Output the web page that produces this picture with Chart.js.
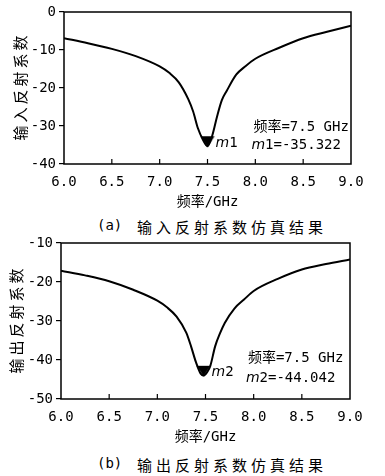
<!DOCTYPE html>
<html>
<head>
<meta charset="utf-8">
<script src="https://cdn.jsdelivr.net/npm/chart.js@4.4.1/dist/chart.umd.min.js"></script>
<style>
  body { margin: 0; width: 385px; height: 476px; position: relative; background: #fff; overflow: hidden; }
  canvas { position: absolute; left: 0; }
  .cap { position: absolute; left: 97px; height: 18px; line-height: 18px; color: #000; white-space: nowrap; }
  .cap .tag { font: 14px "DejaVu Sans Mono", monospace; }
  .cap .txt { position: absolute; left: 40px; top: 0; font: 15px "Noto Sans CJK SC", sans-serif; letter-spacing: 4px; }
</style>
</head>
<body>
<canvas id="chartA" width="385" height="214" style="top:0"></canvas>
<div class="cap" style="top:216px"><span class="tag">(a)</span><span class="txt">输入反射系数仿真结果</span></div>
<canvas id="chartB" width="385" height="220" style="top:230px"></canvas>
<div class="cap" style="top:454px"><span class="tag">(b)</span><span class="txt">输出反射系数仿真结果</span></div>
<script>
// (a) input reflection coefficient, dB vs GHz
const freqA = [6.0, 6.25, 6.5, 6.75, 7.0, 7.1, 7.2, 7.3, 7.35, 7.4, 7.45, 7.5, 7.55, 7.6, 7.65, 7.7, 7.8, 7.9, 8.0, 8.25, 8.5, 8.75, 9.0];
const s11 = [-6.9, -8.2, -9.7, -11.6, -14.3, -16.0, -18.5, -23.0, -26.2, -30.6, -33.5, -35.3, -32.5, -27.5, -23.2, -20.8, -16.5, -14.2, -12.3, -9.4, -6.9, -5.2, -3.6];
const markerA = { freq: 7.5, value: -35.322, name: '1' };

// (b) output reflection coefficient
const freqB = [6.0, 6.25, 6.5, 6.75, 7.0, 7.1, 7.2, 7.3, 7.35, 7.4, 7.45, 7.48, 7.52, 7.55, 7.6, 7.65, 7.7, 7.8, 7.9, 8.0, 8.25, 8.5, 8.75, 9.0];
const s22 = [-17.1, -18.3, -19.8, -22.0, -24.8, -26.5, -28.9, -33.0, -36.5, -40.5, -43.5, -44.0, -43.0, -41.5, -36.5, -33.2, -30.5, -26.8, -24.5, -22.3, -19.2, -16.8, -15.4, -14.2];
const markerB = { freq: 7.48, value: -44.042, name: '2' };

const monoFont = '"DejaVu Sans Mono", "Noto Sans CJK SC", monospace';
const cjkFont = '"Noto Sans CJK SC", sans-serif';

// marker glyph: downward triangle whose tip sits on the point
const markerImg = document.createElement('canvas');
markerImg.width = 28;
markerImg.height = 28;
(function () {
  const c = markerImg.getContext('2d');
  c.fillStyle = '#000';
  c.beginPath();
  c.moveTo(14, 15);
  c.lineTo(7, 4);
  c.lineTo(21, 4);
  c.closePath();
  c.fill();
})();

// draws the closed frame, inward x ticks and the marker readout
const framePlugin = {
  id: 'frame',
  afterDatasetsDraw(chart, args, o) {
    const { ctx, chartArea: a, scales: { x, y } } = chart;
    ctx.save();
    ctx.strokeStyle = '#000';
    ctx.lineWidth = 1.5;
    ctx.strokeRect(a.left, a.top, a.right - a.left, a.bottom - a.top);

    ctx.lineWidth = 1.2;
    x.ticks.forEach((t, i) => {
      if (i === 0 || i === x.ticks.length - 1) return;
      const px = x.getPixelForValue(t.value);
      ctx.beginPath();
      ctx.moveTo(px, a.bottom);
      ctx.lineTo(px, a.bottom - 5);
      ctx.stroke();
    });

    ctx.fillStyle = '#000';
    ctx.textBaseline = 'middle';
    const mk = o.marker;
    const drawM = (px, py) => {
      ctx.font = 'italic 14px "DejaVu Sans", sans-serif';
      ctx.fillText('m', px, py);
      const w = ctx.measureText('m').width;
      ctx.font = '14px ' + monoFont;
      ctx.fillText(mk.name, px + w, py);
      return w + ctx.measureText(mk.name).width;
    };
    // label next to the marker
    drawM(x.getPixelForValue(mk.freq) + 8, y.getPixelForValue(mk.value) - 3);

    // readout text
    const tx = x.getPixelForValue(o.textX);
    ctx.font = '14px ' + monoFont;
    ctx.fillText('频率=7.5 GHz', tx, y.getPixelForValue(o.line1));
    const w = drawM(tx - 2, y.getPixelForValue(o.line2));
    ctx.font = '14px ' + monoFont;
    ctx.fillText('=' + mk.value.toFixed(3), tx - 2 + w, y.getPixelForValue(o.line2));
    ctx.restore();
  }
};

function makeChart(id, freq, vals, marker, cfg) {
  const ctx = document.getElementById(id).getContext('2d');
  return new Chart(ctx, {
    type: 'line',
    data: {
      datasets: [
        {
          data: freq.map((f, i) => ({ x: f, y: vals[i] })),
          borderColor: '#000',
          borderWidth: 2,
          pointRadius: 0,
          cubicInterpolationMode: 'monotone',
          fill: false
        },
        {
          data: [{ x: marker.freq, y: marker.value }],
          showLine: false,
          pointStyle: markerImg,
          pointRadius: 7
        }
      ]
    },
    options: {
      responsive: false,
      animation: false,
      layout: { padding: { top: cfg.padTop, right: cfg.padRight, left: 0, bottom: 0 } },
      plugins: {
        legend: { display: false },
        tooltip: { enabled: false },
        frame: { marker: marker, textX: cfg.textX, line1: cfg.line1, line2: cfg.line2 }
      },
      scales: {
        x: {
          type: 'linear',
          min: 6,
          max: 9,
          ticks: {
            stepSize: 0.5,
            callback: v => v.toFixed(1),
            color: '#000',
            font: { family: monoFont, size: 14 },
            padding: 10,
            maxRotation: 0
          },
          grid: { display: false, drawTicks: false },
          border: { display: false },
          title: {
            display: true,
            text: '频率/GHz',
            color: '#000',
            font: { family: monoFont, size: 14, lineHeight: 1.2 },
            padding: { top: 0, bottom: cfg.xTitlePad }
          },
          afterFit: s => { s.height = cfg.xHeight; }
        },
        y: {
          min: cfg.yMin,
          max: cfg.yMax,
          ticks: {
            stepSize: 10,
            color: '#000',
            font: { family: monoFont, size: 14 },
            padding: 3
          },
          grid: { drawOnChartArea: false, tickLength: 5, color: '#000', lineWidth: 1.2 },
          border: { display: false },
          title: {
            display: true,
            text: cfg.yTitle,
            color: '#000',
            font: { family: cjkFont, size: 15, lineHeight: 1.2 },
            padding: { top: cfg.yTitlePad, bottom: 0 }
          },
          afterFit: s => { s.width = cfg.yWidth; }
        }
      }
    },
    plugins: [framePlugin]
  });
}

makeChart('chartA', freqA, s11, markerA, {
  padTop: 12, padRight: 34, xHeight: 50, yWidth: 64,
  yMin: -40, yMax: 0, xTitlePad: 3, yTitlePad: 11,
  yTitle: '输\u2009入\u2009反\u2009射\u2009系\u2009数',
  textX: 7.98, line1: -30.3, line2: -35.0
});

makeChart('chartB', freqB, s22, markerB, {
  padTop: 13, padRight: 35, xHeight: 51, yWidth: 61,
  yMin: -50, yMax: -10, xTitlePad: 4, yTitlePad: 7,
  yTitle: '输\u2009出\u2009反\u2009射\u2009系\u2009数',
  textX: 7.94, line1: -39.7, line2: -44.6
});
</script>
</body>
</html>
